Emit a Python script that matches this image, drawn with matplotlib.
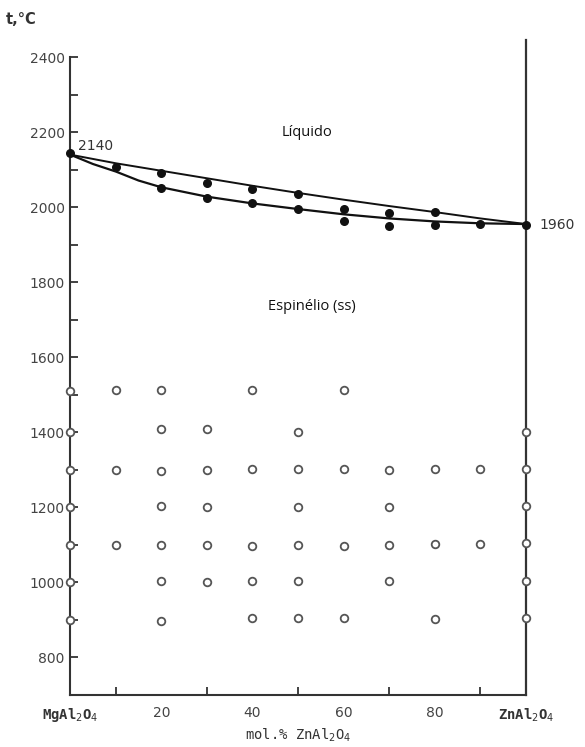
import matplotlib
matplotlib.use("Agg")
import matplotlib.pyplot as plt
import numpy as np

# Liquidus / solidus curves
liq_x = [0, 10, 20, 30, 40, 50, 60, 70, 80, 90, 100]
liquidus_t = [2140, 2117, 2097, 2077, 2057, 2038, 2020, 2003, 1987, 1970, 1955]
sol_x = [0, 5, 10, 15, 20, 30, 40, 50, 60, 70, 80, 90, 100]
solidus_t = [2140, 2115, 2095, 2071, 2053, 2028, 2010, 1995, 1981, 1970, 1962, 1957, 1955]

# Filled experimental points (melting)
melt_x = [0, 10, 20, 20, 30, 30, 40, 40, 50, 50, 60, 60, 70, 70, 80, 80, 90, 100]
melt_t = [2145, 2107, 2092, 2050, 2065, 2025, 2048, 2010, 2035, 1995, 1995, 1963,
          1985, 1950, 1988, 1952, 1955, 1952]

# Open points (spinel solid solution)
solid_x = [0, 10, 20, 40, 60,
           0, 20, 30, 50, 100,
           0, 10, 20, 30, 40, 50, 60, 70, 80, 90, 100,
           0, 20, 30, 50, 70, 100,
           0, 10, 20, 30, 40, 50, 60, 70, 80, 90, 100,
           0, 20, 30, 40, 50, 70, 100,
           0, 20, 40, 50, 60, 80, 100]
solid_t = [1510, 1512, 1512, 1512, 1512,
           1400, 1410, 1410, 1400, 1400,
           1300, 1300, 1298, 1300, 1302, 1302, 1302, 1300, 1303, 1301, 1302,
           1200, 1205, 1200, 1200, 1202, 1203,
           1100, 1101, 1100, 1100, 1096, 1100, 1098, 1100, 1102, 1102, 1105,
           1000, 1003, 1000, 1003, 1005, 1003, 1003,
           900, 897, 905, 905, 905, 903, 905]

xtick_vals = [0, 20, 40, 60, 80, 100]
xtick_labels = [r"MgAl$_2$O$_4$", "20", "40", "60", "80", r"ZnAl$_2$O$_4$"]
ytick_vals = [800, 1000, 1200, 1400, 1600, 1800, 2000, 2200, 2400]

plt.rcParams['mathtext.fontset'] = 'custom'
plt.rcParams['mathtext.rm'] = 'DejaVu Sans'
plt.rcParams['mathtext.it'] = 'DejaVu Sans'

fig = plt.figure(figsize=(5.85, 7.47), dpi=100)
ax = fig.add_axes([0.12, 0.0696, 0.779, 0.854])
ax.set_xlim(0, 100)
ax.set_ylim(700, 2400)

ax.plot(liq_x, liquidus_t, color='#111111', lw=1.4, zorder=3)
ax.plot(sol_x, solidus_t, color='#111111', lw=1.6, zorder=3)
ax.scatter(melt_x, melt_t, s=30, color='#111111', zorder=4, clip_on=False)
ax.scatter(solid_x, solid_t, s=30, facecolor='white', edgecolor='#555555',
           linewidths=1.3, zorder=4, clip_on=False)

# right boundary line extends above plot
ax.plot([100, 100], [700, 2445], color='#333333', lw=1.6, clip_on=False, zorder=2)

for s in ['top', 'right']:
    ax.spines[s].set_visible(False)
for s in ['left', 'bottom']:
    ax.spines[s].set_color('#333333')
    ax.spines[s].set_linewidth(1.5)

ax.set_yticks(ytick_vals)
ax.set_yticks(np.arange(700, 2400, 100), minor=True)
ax.set_xticks(xtick_vals)
ax.set_xticks(np.arange(10, 100, 10), minor=True)
ax.tick_params(axis='both', which='both', direction='in', color='#333333', width=1.3)
ax.tick_params(axis='y', which='major', length=6, labelsize=10, labelcolor='#444444', pad=4)
ax.tick_params(axis='y', which='minor', length=6)
ax.tick_params(axis='x', which='major', length=0, labelsize=10, labelcolor='#444444', pad=8)
ax.tick_params(axis='x', which='minor', length=6)
ax.set_xticklabels(xtick_labels)
labs = ax.get_xticklabels()
for i in (0, len(labs) - 1):
    labs[i].set_fontfamily('DejaVu Sans Mono')
    labs[i].set_fontweight('bold')
    labs[i].set_color('#333333')

ax.set_xlabel(r"mol.% ZnAl$_2$O$_4$", family='DejaVu Sans Mono', fontsize=10,
              color='#333333', labelpad=2)

fig.text(0.01, 0.968, "t,°C", fontsize=10.5, color='#333333', family='DejaVu Sans',
         fontweight='bold')

ax.text(1.8, 2163, "2140", fontsize=10, color='#333333', va='center', ha='left')
ax.text(103, 1952, "1960", fontsize=10, color='#333333', va='center', ha='left',
        clip_on=False)
ax.text(52, 2200, "Líquido", fontsize=10.5, family='Open Sans', color='#111111',
        ha='center', va='center')
ax.text(53, 1735, "Espinélio (ss)", fontsize=10.5, family='Open Sans', color='#111111',
        ha='center', va='center')

fig.savefig("out.png", dpi=100)
